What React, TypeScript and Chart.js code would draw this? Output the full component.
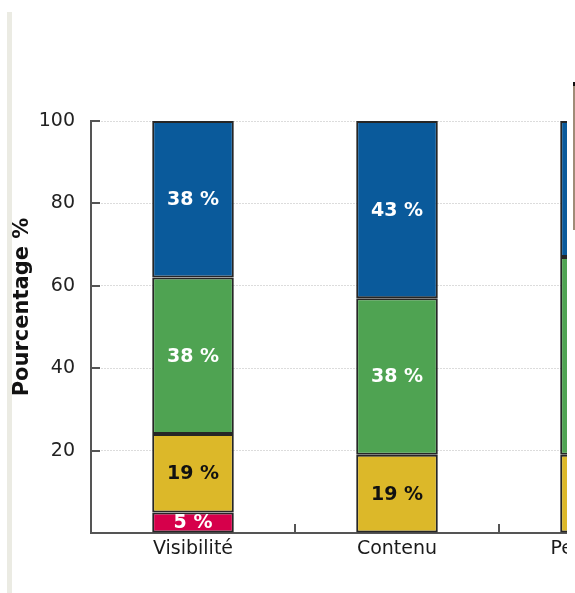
import React, { useEffect, useRef } from "react";
import { Chart, registerables } from "chart.js";

Chart.register(...registerables);

const categories = ["Visibilité", "Contenu", "Pertinence"];
const redValues = [5, null, null];
const yellowValues = [19, 19, 19];
const greenValues = [38, 38, 48];
const blueValues = [38, 43, 33];
const yTickValues = [20, 40, 60, 80, 100];
const yTitle = "Pourcentage %";

const FONT = "'DejaVu Sans', Verdana, sans-serif";

const labelsPlugin = {
  id: "segmentLabels",
  afterDatasetsDraw(chart: any) {
    const ctx = chart.ctx;
    ctx.save();
    ctx.font = `bold 19px ${FONT}`;
    ctx.textAlign = "center";
    ctx.textBaseline = "middle";
    chart.data.datasets.forEach((ds: any, di: number) => {
      const meta = chart.getDatasetMeta(di);
      meta.data.forEach((el: any, i: number) => {
        const v = ds.data[i];
        if (v === null || v === undefined) return;
        const y = (el.y + el.base) / 2 + 1;
        ctx.fillStyle = ds.labelColor;
        ctx.fillText(`${v} %`, el.x, y);
      });
    });
    ctx.restore();
  },
};

const axisDecorPlugin = {
  id: "axisDecor",
  afterDraw(chart: any) {
    const ctx = chart.ctx;
    const ys = chart.scales.y;
    const xs = chart.scales.x;
    const area = chart.chartArea;
    ctx.save();
    ctx.strokeStyle = "#555";
    ctx.lineWidth = 2;
    yTickValues.forEach((v) => {
      const py = Math.round(ys.getPixelForValue(v));
      ctx.beginPath();
      ctx.moveTo(area.left, py);
      ctx.lineTo(area.left + 9, py);
      ctx.stroke();
    });
    for (let i = 0; i < categories.length - 1; i++) {
      const px = Math.round((xs.getPixelForValue(i) + xs.getPixelForValue(i + 1)) / 2);
      ctx.beginPath();
      ctx.moveTo(px, area.bottom);
      ctx.lineTo(px, area.bottom - 9);
      ctx.stroke();
    }
    ctx.fillStyle = "#111";
    ctx.font = `bold 21px ${FONT}`;
    ctx.textAlign = "center";
    ctx.textBaseline = "middle";
    ctx.translate(15, 299);
    ctx.rotate(-Math.PI / 2);
    ctx.fillText(yTitle, 0, 0);
    ctx.restore();
  },
};

export default function App() {
  const ref = useRef<HTMLCanvasElement | null>(null);

  useEffect(() => {
    if (!ref.current) return;
    const mk = (label: string, data: any[], bg: string, labelColor: string) => ({
      label,
      data,
      backgroundColor: bg,
      borderColor: "#262626",
      borderWidth: 2,
      borderSkipped: false,
      labelColor,
    });
    const chart = new Chart(ref.current, {
      type: "bar",
      data: {
        labels: categories,
        datasets: [
          mk("Rouge", redValues, "#d6004b", "#ffffff"),
          mk("Jaune", yellowValues, "#dcb829", "#111111"),
          mk("Vert", greenValues, "#4fa352", "#ffffff"),
          mk("Bleu", blueValues, "#0a5a9b", "#ffffff"),
        ] as any,
      },
      options: {
        responsive: false,
        animation: false,
        layout: { padding: { top: 113, right: 25, bottom: 0, left: 0 } },
        plugins: {
          legend: { display: false },
          tooltip: { enabled: false },
        },
        datasets: {
          bar: { categoryPercentage: 1, barPercentage: 0.4 },
        },
        scales: {
          x: {
            stacked: true,
            grid: { display: false, drawTicks: false },
            border: { display: true, color: "#555", width: 2 },
            ticks: { color: "#1a1a1a", font: { family: FONT, size: 19 }, padding: 5 },
            afterFit: (s: any) => {
              s.height = 60;
            },
          },
          y: {
            stacked: true,
            min: 0,
            max: 100,
            grid: {
              drawTicks: false,
              color: (c: any) => (c.tick && c.tick.value === 0 ? "transparent" : "#dcdcdc"),
              lineWidth: 1,
            },
            border: { display: true, color: "#555", width: 2, dash: [2, 1] as any },
            ticks: {
              stepSize: 20,
              color: "#222",
              font: { family: FONT, size: 19 },
              padding: 16,
              callback: (v: any) => (v === 0 ? "" : String(v)),
            },
            afterFit: (s: any) => {
              s.width = 83;
            },
          },
        },
      },
      plugins: [labelsPlugin, axisDecorPlugin],
    } as any);
    return () => chart.destroy();
  }, []);

  return (
    <div style={{ position: "relative", width: 567, height: 577, overflow: "hidden" }}>
      <canvas
        ref={ref}
        width={720}
        height={585}
        style={{ position: "absolute", left: 0, top: 0, width: 720, height: 585 }}
      />
      <div style={{ position: "fixed", left: 7, top: 12, width: 5, height: 590, background: "#ebebe3" }} />
      <div style={{ position: "fixed", left: 573, top: 82, width: 2, height: 148, background: "#a08c78" }} />
      <div style={{ position: "fixed", left: 573, top: 82, width: 2, height: 4, background: "#111" }} />
    </div>
  );
}
